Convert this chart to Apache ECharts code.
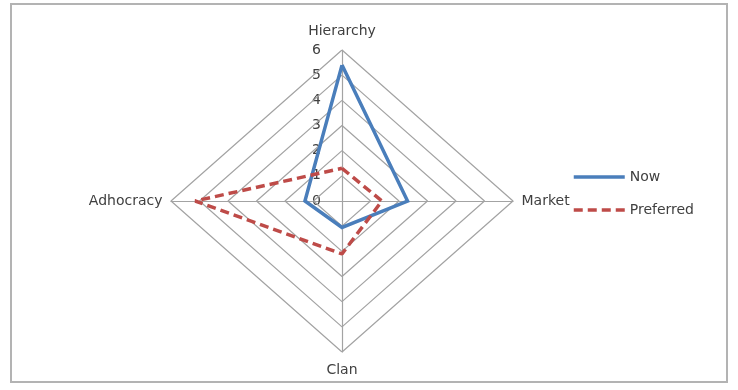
<!DOCTYPE html>
<html>
<head>
<meta charset="utf-8">
<script src="https://cdn.jsdelivr.net/npm/echarts@6/dist/echarts.min.js"></script>
<style>
  html, body { margin: 0; padding: 0; background: #fff; }
  #chart { width: 738px; height: 390px; }
</style>
</head>
<body>
<div id="chart"></div>
<script>
// axes of the radar, clockwise from the top
const indicators = ['Hierarchy', 'Market', 'Clan', 'Adhocracy']
const nowValues = [5.4, 2.3, 1.05, 1.3]
const preferredValues = [1.3, 1.4, 2.1, 5.15]
const ringValues = [1, 2, 3, 4, 5, 6]
const maxValue = 6

// unit direction of each indicator on the page
const dirs = [[0, 1], [1, 0], [0, -1], [-1, 0]]

function toPoints(values) {
  const pts = values.map((v, i) => [dirs[i][0] * v, dirs[i][1] * v])
  pts.push(pts[0])
  return pts
}

const font = '"DejaVu Sans", sans-serif'
const gridColor = '#a3a3a3'
const textColor = '#404040'

const ringSeries = ringValues.map(r => ({
  type: 'line',
  data: toPoints(indicators.map(() => r)),
  symbol: 'none',
  silent: true,
  z: 1,
  lineStyle: { color: gridColor, width: 1.2 }
}))

const labelPos = ['top', 'right', 'bottom', 'left']
const labelSeries = {
  type: 'scatter',
  symbolSize: 1,
  silent: true,
  z: 4,
  itemStyle: { color: 'rgba(0,0,0,0)' },
  label: { show: true, color: textColor, fontSize: 14, fontFamily: font, opacity: 1 },
  data: indicators.map((name, i) => ({
    value: [dirs[i][0] * maxValue, dirs[i][1] * maxValue],
    label: {
      position: labelPos[i],
      distance: i % 2 ? 8 : 11,
      formatter: name
    }
  }))
}

const chart = echarts.init(document.getElementById('chart'))
chart.setOption({
  animation: false,
  grid: { left: 171, right: 225, top: 50, bottom: 38 },
  xAxis: {
    type: 'value', min: -maxValue, max: maxValue,
    axisLine: { show: true, onZero: true, lineStyle: { color: gridColor, width: 1.2 } },
    axisTick: { show: false },
    axisLabel: { show: false },
    splitLine: { show: false }
  },
  yAxis: {
    type: 'value', min: -maxValue, max: maxValue, interval: 1,
    offset: -171,
    axisLine: { show: true, onZero: false, lineStyle: { color: gridColor, width: 1.2 } },
    axisTick: { show: false },
    splitLine: { show: false },
    axisLabel: {
      margin: 21,
      color: textColor,
      fontSize: 14,
      fontFamily: font,
      formatter: v => (v >= 0 ? String(v) : '')
    }
  },
  legend: {
    data: ['Now', 'Preferred'],
    orient: 'vertical',
    left: 567,
    top: 165,
    itemWidth: 51,
    itemHeight: 14,
    itemGap: 19,
    itemStyle: { opacity: 0 },
    lineStyle: { width: 3.5 },
    textStyle: { color: textColor, fontSize: 14, fontFamily: font }
  },
  graphic: [{
    type: 'rect',
    shape: { x: 11, y: 4, width: 716, height: 378 },
    style: { fill: null, stroke: '#b3b3b3', lineWidth: 2 },
    silent: true
  }],
  series: [
    ...ringSeries,
    {
      name: 'Now',
      type: 'line',
      data: toPoints(nowValues),
      symbol: 'none',
      z: 3,
      color: '#4a7ebb',
      lineStyle: { color: '#4a7ebb', width: 3.5, join: 'miter' }
    },
    {
      name: 'Preferred',
      type: 'line',
      data: toPoints(preferredValues),
      symbol: 'none',
      z: 3,
      color: '#be4b48',
      lineStyle: { color: '#be4b48', width: 3.5, type: [9, 5] }
    },
    labelSeries
  ]
})
</script>
</body>
</html>
